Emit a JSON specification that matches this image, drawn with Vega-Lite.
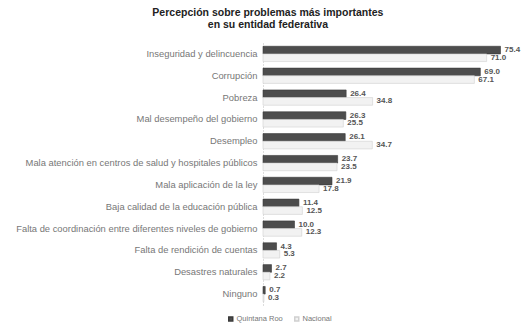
{
  "$schema": "https://vega.github.io/schema/vega-lite/v6.json",
  "width": 252,
  "height": 262,
  "padding": {"left": 15, "top": 7, "right": 2, "bottom": 2},
  "background": "#ffffff",
  "config": {
    "font": "Liberation Sans",
    "view": {"stroke": null}
  },
  "title": {
    "text": ["Percepción sobre problemas más importantes", "en su entidad federativa"],
    "fontSize": 10.5,
    "fontWeight": "bold",
    "color": "#222222",
    "anchor": "middle",
    "frame": "bounds",
    "offset": 13,
    "lineHeight": 12
  },
  "data": {
    "values": [
      {"categoria": "Inseguridad y delincuencia", "serie": "Quintana Roo", "valor": 75.4},
      {"categoria": "Inseguridad y delincuencia", "serie": "Nacional", "valor": 71.0},
      {"categoria": "Corrupción", "serie": "Quintana Roo", "valor": 69.0},
      {"categoria": "Corrupción", "serie": "Nacional", "valor": 67.1},
      {"categoria": "Pobreza", "serie": "Quintana Roo", "valor": 26.4},
      {"categoria": "Pobreza", "serie": "Nacional", "valor": 34.8},
      {"categoria": "Mal desempeño del gobierno", "serie": "Quintana Roo", "valor": 26.3},
      {"categoria": "Mal desempeño del gobierno", "serie": "Nacional", "valor": 25.5},
      {"categoria": "Desempleo", "serie": "Quintana Roo", "valor": 26.1},
      {"categoria": "Desempleo", "serie": "Nacional", "valor": 34.7},
      {"categoria": "Mala atención en centros de salud y hospitales públicos", "serie": "Quintana Roo", "valor": 23.7},
      {"categoria": "Mala atención en centros de salud y hospitales públicos", "serie": "Nacional", "valor": 23.5},
      {"categoria": "Mala aplicación de la ley", "serie": "Quintana Roo", "valor": 21.9},
      {"categoria": "Mala aplicación de la ley", "serie": "Nacional", "valor": 17.8},
      {"categoria": "Baja calidad de la educación pública", "serie": "Quintana Roo", "valor": 11.4},
      {"categoria": "Baja calidad de la educación pública", "serie": "Nacional", "valor": 12.5},
      {"categoria": "Falta de coordinación entre diferentes niveles de gobierno", "serie": "Quintana Roo", "valor": 10.0},
      {"categoria": "Falta de coordinación entre diferentes niveles de gobierno", "serie": "Nacional", "valor": 12.3},
      {"categoria": "Falta de rendición de cuentas", "serie": "Quintana Roo", "valor": 4.3},
      {"categoria": "Falta de rendición de cuentas", "serie": "Nacional", "valor": 5.3},
      {"categoria": "Desastres naturales", "serie": "Quintana Roo", "valor": 2.7},
      {"categoria": "Desastres naturales", "serie": "Nacional", "valor": 2.2},
      {"categoria": "Ninguno", "serie": "Quintana Roo", "valor": 0.7},
      {"categoria": "Ninguno", "serie": "Nacional", "valor": 0.3}
    ]
  },
  "encoding": {
    "y": {
      "field": "categoria",
      "type": "nominal",
      "sort": null,
      "scale": {"paddingInner": 0.3, "paddingOuter": 0.15},
      "axis": {
        "title": null,
        "ticks": false,
        "domain": true,
        "domainColor": "#bbbbbb",
        "domainDash": [1, 2],
        "labelFontSize": 9.4,
        "labelColor": "#777777",
        "labelPadding": 6,
        "labelLimit": 320
      }
    },
    "yOffset": {"field": "serie", "type": "nominal", "sort": ["Quintana Roo", "Nacional"]},
    "x": {
      "field": "valor",
      "type": "quantitative",
      "scale": {"domain": [0, 80]},
      "axis": null
    }
  },
  "layer": [
    {
      "mark": {"type": "bar", "strokeWidth": 0.6},
      "encoding": {
        "color": {
          "field": "serie",
          "type": "nominal",
          "sort": ["Quintana Roo", "Nacional"],
          "scale": {"domain": ["Quintana Roo", "Nacional"], "range": ["#4d4d4d", "#f2f2f2"]},
          "legend": {
            "title": null,
            "orient": "none",
            "legendX": -36,
            "legendY": 272,
            "direction": "horizontal",
            "symbolType": "square",
            "symbolSize": 16,
            "symbolOffset": 0,
            "labelOffset": 2,
            "labelFontSize": 7.5,
            "labelColor": "#777777",
            "columnPadding": 8
          }
        },
        "stroke": {
          "field": "serie",
          "type": "nominal",
          "scale": {"domain": ["Quintana Roo", "Nacional"], "range": ["#3a3a3a", "#d0d0d0"]},
          "legend": null
        }
      }
    },
    {
      "mark": {"type": "text", "align": "left", "baseline": "middle", "dx": 4, "fontSize": 8, "fontWeight": "bold", "color": "#555555"},
      "encoding": {
        "text": {"field": "valor", "type": "quantitative", "format": ".1f"}
      }
    }
  ]
}
